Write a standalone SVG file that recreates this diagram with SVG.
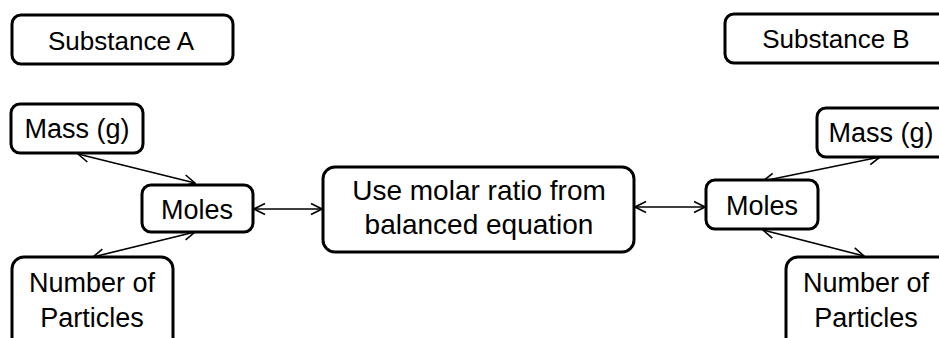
<svg xmlns="http://www.w3.org/2000/svg" width="939" height="338" viewBox="0 0 939 338">
<style>
.box{fill:#fff;stroke:#000;stroke-width:3}
.t{font-family:"Liberation Sans",Arial,sans-serif;font-size:27px;fill:#000;text-anchor:middle}
.s26{font-size:26px}
.s28{font-size:28px}
.c{stroke:#000;stroke-width:1.6;fill:none;marker-start:url(#ah);marker-end:url(#ah)}
</style>
<defs>
<marker id="ah" viewBox="0 0 14 14" refX="13" refY="7" markerWidth="14" markerHeight="14" markerUnits="userSpaceOnUse" orient="auto-start-reverse">
<path d="M2,1.5 L13,7 L2,12.5" fill="none" stroke="#000" stroke-width="1.6"/>
</marker>
</defs>
<rect width="939" height="338" fill="#fff"/>
<g id="connectors">
<line class="c" x1="78" y1="154" x2="195" y2="183"/>
<line class="c" x1="195" y1="232" x2="93" y2="257"/>
<line class="c" x1="254" y1="209" x2="322" y2="209"/>
<line class="c" x1="635" y1="207" x2="705" y2="207"/>
<line class="c" x1="763" y1="181" x2="880" y2="157"/>
<line class="c" x1="763" y1="230" x2="864" y2="256"/>
</g>
<g id="substanceA">
<rect class="box" x="12" y="15" width="221" height="49" rx="9"/>
<text class="t s26" x="121" y="50">Substance A</text>
</g>
<g id="substanceB">
<rect class="box" x="725" y="14" width="240" height="49" rx="9"/>
<text class="t s26" x="836" y="48">Substance B</text>
</g>
<g id="massA">
<rect class="box" x="11" y="104" width="132" height="49" rx="9"/>
<text class="t" x="77" y="138">Mass (g)</text>
</g>
<g id="molesA">
<rect class="box" x="142" y="185" width="111" height="47" rx="9"/>
<text class="t" x="197" y="219">Moles</text>
</g>
<g id="particlesA">
<rect class="box" x="12" y="257" width="161" height="110" rx="12"/>
<text class="t" x="92" y="292">Number of</text>
<text class="t" x="92" y="327">Particles</text>
</g>
<g id="ratio">
<rect class="box" x="323" y="167" width="311" height="85" rx="12"/>
<text class="t s28" x="479" y="200">Use molar ratio from</text>
<text class="t s28" x="479" y="234">balanced equation</text>
</g>
<g id="molesB">
<rect class="box" x="706" y="180" width="112" height="49" rx="9"/>
<text class="t" x="762" y="215">Moles</text>
</g>
<g id="massB">
<rect class="box" x="817" y="108" width="140" height="49" rx="9"/>
<text class="t" x="881" y="142">Mass (g)</text>
</g>
<g id="particlesB">
<rect class="box" x="786" y="257" width="180" height="110" rx="12"/>
<text class="t" x="866" y="292">Number of</text>
<text class="t" x="866" y="327">Particles</text>
</g>
</svg>
